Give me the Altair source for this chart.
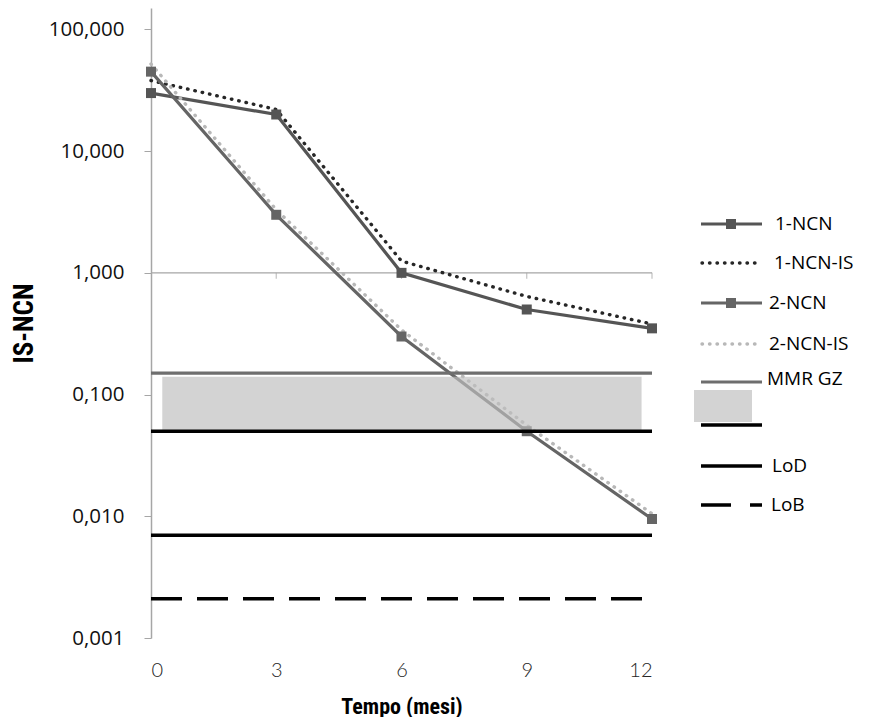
import altair as alt
import pandas as pd

# ---------------- data ----------------
months = [0, 3, 6, 9, 12]
ncn1 = [30, 20, 1.0, 0.5, 0.35]
ncn1_is = [38, 22, 1.25, 0.64, 0.38]
ncn2 = [45, 3.0, 0.30, 0.05, 0.0095]
ncn2_is = [52, 3.3, 0.34, 0.056, 0.0105]

ref_names = ["MMR GZ", "", "LoD", "LoB"]
ref_values = [0.15, 0.05, 0.007, 0.0021]

band_x = [0.27, 11.75]
band_y = [0.05, 0.14]

y_ticks = [0.001, 0.01, 0.1, 1, 10, 100]
x_ticks = [0, 3, 6, 9, 12]

legend_labels = ["1-NCN", "1-NCN-IS", "2-NCN", "2-NCN-IS", "MMR GZ", "", "", "LoD", "LoB"]

W, H = 501, 630

# ---------------- styles ----------------
C1 = "#555555"
C1IS = "#262626"
C2 = "#656565"
C2IS = "#b8b8b8"
CMMR = "#6e6e6e"
AX = "#a6a6a6"
LABEL_FONT = "Open Sans"
TITLE_FONT = "Liberation Sans Narrow, Roboto Condensed, Roboto, sans-serif"

xaxis = alt.Axis(values=x_ticks, domain=False, ticks=False, tickSize=0, grid=False,
                 labelFont="Lato", labelFontWeight=300, labelFontSize=20, labelColor="#262626",
                 labelPadding=22, title="Tempo (mesi)", titleFont=TITLE_FONT, titleFontSize=22,
                 titleFontWeight="bold", titleColor="#000000", titlePadding=16)
yaxis = alt.Axis(values=y_ticks, grid=False, domainColor=AX, domainWidth=1.5, tickColor=AX,
                 tickSize=7, labelFont=LABEL_FONT, labelFontSize=20.5, labelColor="#111111",
                 labelPadding=20,
                 labelExpr="replace(format(datum.value, '.3f'), '.', ',')",
                 title="IS-NCN", titleFont=TITLE_FONT, titleFontSize=27, titleFontWeight="bold",
                 titleColor="#000000", titlePadding=10)

X = alt.X("m:Q", scale=alt.Scale(domain=[0, 12], nice=False, zero=False), axis=xaxis)
X2 = alt.X2("m2:Q")
Y = alt.Y("v:Q", scale=alt.Scale(type="log", domain=[0.001, 150], nice=False), axis=yaxis)
Y2 = alt.Y2("v2:Q")


def sdf(vals):
    return pd.DataFrame({"m": months, "v": vals})


# axis-crossing line at 1 with downward ticks
cross_df = pd.DataFrame({"m": [min(months)], "m2": [max(months)], "v": [1]})
cross = alt.Chart(cross_df).mark_rule(color=AX, strokeWidth=1.2).encode(x=X, x2=X2, y=Y)
cross_ticks = alt.Chart(pd.DataFrame({"m": x_ticks[1:], "v": [1] * 4})).mark_tick(
    orient="vertical", size=6, thickness=1.2, color=AX, yOffset=3).encode(x=X, y=Y)

l1 = alt.Chart(sdf(ncn1)).mark_line(color=C1, strokeWidth=3.2).encode(x=X, y=Y)
p1 = alt.Chart(sdf(ncn1)).mark_square(color=C1, size=100, opacity=1).encode(x=X, y=Y)
l1is = alt.Chart(sdf(ncn1_is)).mark_line(color=C1IS, strokeWidth=3.4, strokeDash=[0.5, 7],
                                         strokeCap="round").encode(x=X, y=Y)
l2 = alt.Chart(sdf(ncn2)).mark_line(color=C2, strokeWidth=3.2).encode(x=X, y=Y)
p2 = alt.Chart(sdf(ncn2)).mark_square(color=C2, size=100, opacity=1).encode(x=X, y=Y)
l2is = alt.Chart(sdf(ncn2_is)).mark_line(color=C2IS, strokeWidth=3.4, strokeDash=[0.5, 7],
                                         strokeCap="round").encode(x=X, y=Y)

band_df = pd.DataFrame({"m": [band_x[0]], "m2": [band_x[1]], "v": [band_y[0]], "v2": [band_y[1]]})
band = alt.Chart(band_df).mark_rect(color="#bebebe", opacity=0.68).encode(x=X, x2=X2, y=Y, y2=Y2)


def ref_df(val):
    return pd.DataFrame({"m": [min(months)], "m2": [max(months)], "v": [val]})


mmr = alt.Chart(ref_df(ref_values[0])).mark_rule(color=CMMR, strokeWidth=3.2).encode(x=X, x2=X2, y=Y)
cut = alt.Chart(ref_df(ref_values[1])).mark_rule(color="#000000", strokeWidth=3.5).encode(x=X, x2=X2, y=Y)
lod = alt.Chart(ref_df(ref_values[2])).mark_rule(color="#000000", strokeWidth=3.5).encode(x=X, x2=X2, y=Y)
lob = alt.Chart(ref_df(ref_values[3])).mark_rule(color="#000000", strokeWidth=3.5,
                                                  strokeDash=[31, 15]).encode(x=X, x2=X2, y=Y)

main = alt.layer(cross, cross_ticks, l1, l1is, l2, l2is, p1, p2, band, mmr, cut, lod, lob)

# ---------------- legend (drawn beside the plot) ----------------
leg_y = [216, 255, 295, 336, 374, 0, 417, 458, 497]
leg_text_y = [216, 255, 295, 336, 371, 0, 417, 458, 497]
leg_text_x = [624, 623, 618, 618, 616, 0, 0, 621, 620]
LY = alt.Y("ly:Q", scale=alt.Scale(domain=[0, H], range=[0, H], nice=False, zero=False), axis=None)
LY2 = alt.Y2("ly2:Q")

solid = pd.DataFrame({"ly": [leg_y[0], leg_y[2], leg_y[4], leg_y[6], leg_y[7]],
                      "col": [C1, C2, CMMR, "#000000", "#000000"],
                      "w": [3.2, 3.2, 3.2, 3.5, 3.5]})
leg_solid = alt.Chart(solid).mark_rule().encode(
    x=alt.value(550), x2=alt.value(611), y=LY,
    color=alt.Color("col:N", scale=None), strokeWidth=alt.StrokeWidth("w:Q", scale=None))
leg_d1 = alt.Chart(pd.DataFrame({"ly": [leg_y[1]]})).mark_rule(
    color=C1IS, strokeWidth=3.4, strokeDash=[0.5, 7], strokeCap="round").encode(
    x=alt.value(551), x2=alt.value(611), y=LY)
leg_d2 = alt.Chart(pd.DataFrame({"ly": [leg_y[3]]})).mark_rule(
    color=C2IS, strokeWidth=3.4, strokeDash=[0.5, 7], strokeCap="round").encode(
    x=alt.value(551), x2=alt.value(611), y=LY)
leg_dash = alt.Chart(pd.DataFrame({"ly": [leg_y[8]]})).mark_rule(
    color="#000000", strokeWidth=3.5, strokeDash=[30, 19]).encode(
    x=alt.value(550), x2=alt.value(611), y=LY)
leg_sq = alt.Chart(pd.DataFrame({"ly": [leg_y[0], leg_y[2]], "col": [C1, C2]})).mark_square(
    size=100, opacity=1).encode(x=alt.value(580), y=LY, color=alt.Color("col:N", scale=None))
leg_box = alt.Chart(pd.DataFrame({"ly": [382], "ly2": [414]})).mark_rect(color="#d3d3d3").encode(
    x=alt.value(543), x2=alt.value(601), y=LY, y2=LY2)

txt_df = pd.DataFrame({"label": legend_labels, "ly": leg_text_y, "lx": leg_text_x})
txt_df = txt_df[txt_df["label"] != ""]
leg_text = alt.Chart(txt_df).mark_text(align="left", baseline="middle", font=LABEL_FONT,
                                       fontSize=19, color="#000000").encode(
    x=alt.X("lx:Q", scale=alt.Scale(domain=[0, W], range=[0, W], nice=False, zero=False), axis=None),
    y=LY, text="label:N")

legend = alt.layer(leg_solid, leg_d1, leg_d2, leg_dash, leg_sq, leg_box, leg_text)

chart = alt.layer(main, legend).resolve_scale(y="independent", x="independent").properties(
    width=W, height=H, padding={"left": 2, "top": 0, "right": 0, "bottom": 0},
    background="white"
).configure_view(stroke=None)

chart.save("out.html", embed_options={"renderer": "svg", "actions": False})
